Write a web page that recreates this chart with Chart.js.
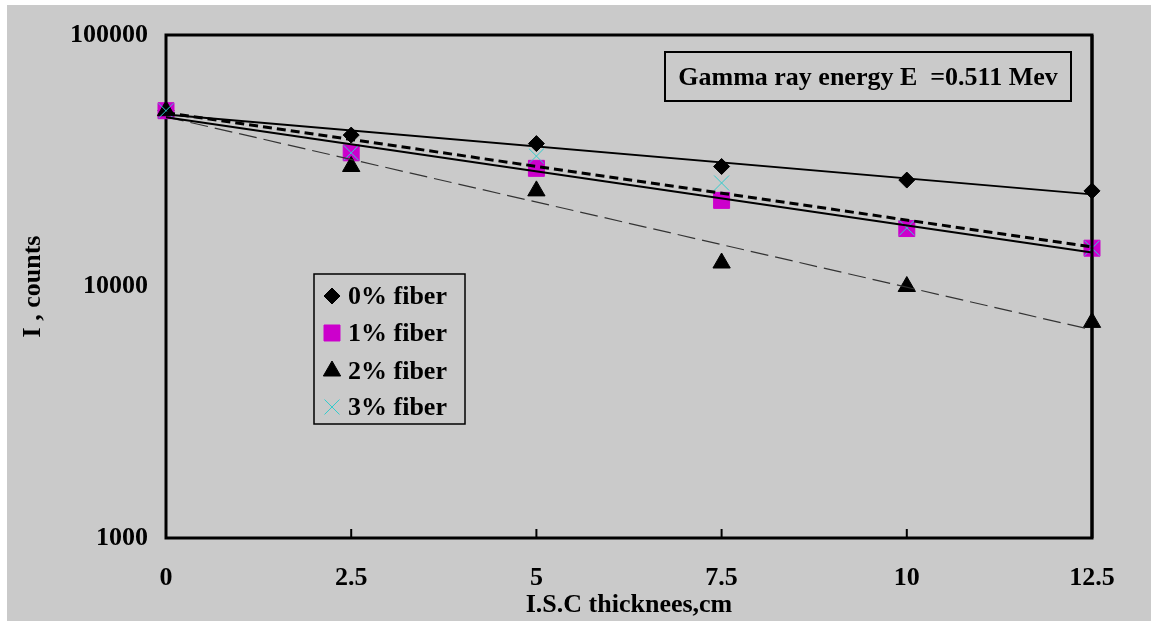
<!DOCTYPE html>
<html>
<head>
<meta charset="utf-8">
<script src="https://cdn.jsdelivr.net/npm/chart.js@4/dist/chart.umd.min.js"></script>
<style>
  html, body { margin: 0; padding: 0; background: #ffffff; }
  #wrap { width: 1158px; height: 628px; }
</style>
</head>
<body>
<div id="wrap"><canvas id="c" width="1158" height="628"></canvas></div>
<script>
// Measured counts versus shield thickness for each fibre content
const thickness = [0, 2.5, 5, 7.5, 10, 12.5];
const fiber0 = [50000, 40000, 37000, 30000, 26500, 24000];
const fiber1 = [50000, 34000, 29500, 22000, 17000, 14200];
const fiber2 = [50000, 30000, 24000, 12400, 10000, 7200];
const fiber3 = [50000, 34000, 33000, 25800, 17100, 14200];
const seriesNames = ['0% fiber', '1% fiber', '2% fiber', '3% fiber'];

const xTicks = [0, 2.5, 5, 7.5, 10, 12.5];
const yTicks = [1000, 10000, 100000];

const boxText = 'Gamma ray energy E  =0.511 Mev';
const xTitle = 'I.S.C thicknees,cm';
const yTitle = 'I , counts';

const BG = '#cacaca';
const FONT = 'Liberation Serif, Times New Roman, serif';
const font26 = { family: FONT, size: 26, weight: 'bold' };

// Least-squares exponential trend line (straight on the log axis)
function expFit(xs, ys) {
  const n = xs.length;
  const ly = ys.map(Math.log);
  const mx = xs.reduce((a, b) => a + b, 0) / n;
  const my = ly.reduce((a, b) => a + b, 0) / n;
  let sxy = 0, sxx = 0;
  for (let i = 0; i < n; i++) {
    sxy += (xs[i] - mx) * (ly[i] - my);
    sxx += (xs[i] - mx) * (xs[i] - mx);
  }
  const b = sxy / sxx, a = my - b * mx;
  return x => Math.exp(a + b * x);
}
function trend(ys) {
  const f = expFit(thickness, ys);
  return [thickness[0], thickness[thickness.length - 1]].map(x => ({ x: x, y: f(x) }));
}
function pts(ys) { return thickness.map((x, i) => ({ x: x, y: ys[i] })); }

const markerStyles = [
  { pointStyle: 'rectRot', radius: 8, fill: '#000000', stroke: '#000000', borderWidth: 1 },
  { pointStyle: 'rect', radius: 11.3, fill: '#cc00cc', stroke: '#cc00cc', borderWidth: 1 },
  { pointStyle: 'triangle', radius: 10, fill: '#000000', stroke: '#000000', borderWidth: 1 },
  { pointStyle: 'crossRot', radius: 10.6, fill: '#33cccc', stroke: '#33cccc', borderWidth: 1 }
];
const seriesValues = [fiber0, fiber1, fiber2, fiber3];

const pointSets = seriesValues.map((ys, i) => ({
  label: seriesNames[i],
  data: pts(ys),
  showLine: false,
  pointStyle: markerStyles[i].pointStyle,
  pointRadius: markerStyles[i].radius,
  pointBackgroundColor: markerStyles[i].fill,
  pointBorderColor: markerStyles[i].stroke,
  pointBorderWidth: markerStyles[i].borderWidth,
  order: 10 - i,
  clip: false
}));

const lineStyles = [
  { color: '#000000', width: 2, dash: [] },
  { color: '#000000', width: 2, dash: [] },
  { color: '#333333', width: 1.2, dash: [18, 7] },
  { color: '#000000', width: 3, dash: [9, 5] }
];
const trendSets = seriesValues.map((ys, i) => ({
  label: seriesNames[i] + ' trend',
  data: trend(ys),
  showLine: true,
  pointRadius: 0,
  borderColor: lineStyles[i].color,
  borderWidth: lineStyles[i].width,
  borderDash: lineStyles[i].dash,
  fill: false,
  order: 1,
  clip: false
}));

const backgroundPlugin = {
  id: 'pageBackground',
  beforeDraw(chart) {
    const ctx = chart.ctx;
    ctx.save();
    ctx.fillStyle = '#ffffff';
    ctx.fillRect(0, 0, chart.width, chart.height);
    ctx.fillStyle = BG;
    ctx.fillRect(7, 5, 1144, 616);
    ctx.restore();
  }
};

const framePlugin = {
  id: 'plotFrame',
  beforeDatasetsDraw(chart) {
    const { ctx, chartArea: a, scales } = chart;
    ctx.save();
    ctx.strokeStyle = '#000';
    ctx.lineWidth = 3;
    ctx.strokeRect(a.left, a.top, a.right - a.left, a.bottom - a.top);
    // inward tick marks on the thickness axis
    ctx.lineWidth = 2;
    xTicks.forEach(v => {
      const x = scales.x.getPixelForValue(v);
      ctx.beginPath();
      ctx.moveTo(x, a.bottom);
      ctx.lineTo(x, a.bottom - 9);
      ctx.stroke();
    });
    ctx.restore();
  },
  afterDatasetsDraw(chart) {
    const { ctx, chartArea: a } = chart;
    ctx.save();
    ctx.strokeStyle = '#000';
    ctx.lineWidth = 3;
    ctx.beginPath();
    ctx.moveTo(a.right, a.top);
    ctx.lineTo(a.right, a.bottom);
    ctx.stroke();
    ctx.restore();
  }
};

function drawMarker(ctx, m, x, y) {
  ctx.fillStyle = m.fill;
  ctx.strokeStyle = m.stroke;
  ctx.lineWidth = m.borderWidth;
  Chart.helpers.drawPoint(ctx, { pointStyle: m.pointStyle, radius: m.radius, rotation: 0, borderWidth: m.borderWidth }, x, y);
}

const annotationPlugin = {
  id: 'boxes',
  afterDraw(chart) {
    const ctx = chart.ctx;
    ctx.save();
    // energy label box
    ctx.fillStyle = BG;
    ctx.fillRect(665, 52, 406, 49);
    ctx.strokeStyle = '#000';
    ctx.lineWidth = 2;
    ctx.strokeRect(665, 52, 406, 49);
    ctx.fillStyle = '#000';
    ctx.font = 'bold 26px ' + FONT;
    ctx.textAlign = 'center';
    ctx.textBaseline = 'middle';
    ctx.fillText(boxText, 868, 78);

    // legend
    ctx.fillStyle = BG;
    ctx.fillRect(314, 274, 151, 150);
    ctx.strokeStyle = '#000';
    ctx.lineWidth = 1.5;
    ctx.strokeRect(314, 274, 151, 150);
    const rows = [296, 333, 371, 407];
    seriesNames.forEach((name, i) => {
      drawMarker(ctx, markerStyles[i], 332, rows[i]);
      ctx.fillStyle = '#000';
      ctx.font = 'bold 26px ' + FONT;
      ctx.textAlign = 'left';
      ctx.textBaseline = 'middle';
      ctx.fillText(name, 348, rows[i] + 1);
    });
    ctx.restore();
  }
};

new Chart(document.getElementById('c'), {
  type: 'scatter',
  data: { datasets: trendSets.concat(pointSets) },
  options: {
    responsive: false,
    animation: false,
    events: [],
    layout: { padding: { top: 35, right: 66, left: 0, bottom: 0 } },
    plugins: {
      legend: { display: false },
      tooltip: { enabled: false },
      title: { display: false }
    },
    scales: {
      x: {
        type: 'linear',
        min: 0,
        max: 12.5,
        grid: { display: false, drawTicks: false },
        border: { display: false },
        afterBuildTicks: s => { s.ticks = xTicks.map(v => ({ value: v })); },
        afterFit: s => { s.height = 90; },
        ticks: {
          color: '#000',
          font: font26,
          padding: 25,
          maxRotation: 0,
          autoSkip: false,
          callback: v => String(v)
        },
        title: {
          display: true,
          text: xTitle,
          color: '#000',
          font: font26,
          padding: { top: 0, bottom: 7 }
        }
      },
      y: {
        type: 'logarithmic',
        min: 1000,
        max: 100000,
        grid: { display: false, drawTicks: false },
        border: { display: false },
        afterBuildTicks: s => { s.ticks = yTicks.map(v => ({ value: v })); },
        afterFit: s => { s.width = 166; },
        ticks: {
          color: '#000',
          font: font26,
          padding: 18,
          autoSkip: false,
          callback: v => String(v)
        },
        title: {
          display: true,
          text: yTitle,
          color: '#000',
          font: font26,
          padding: { top: 18, bottom: 0 }
        }
      }
    }
  },
  plugins: [backgroundPlugin, framePlugin, annotationPlugin]
});
</script>
</body>
</html>
